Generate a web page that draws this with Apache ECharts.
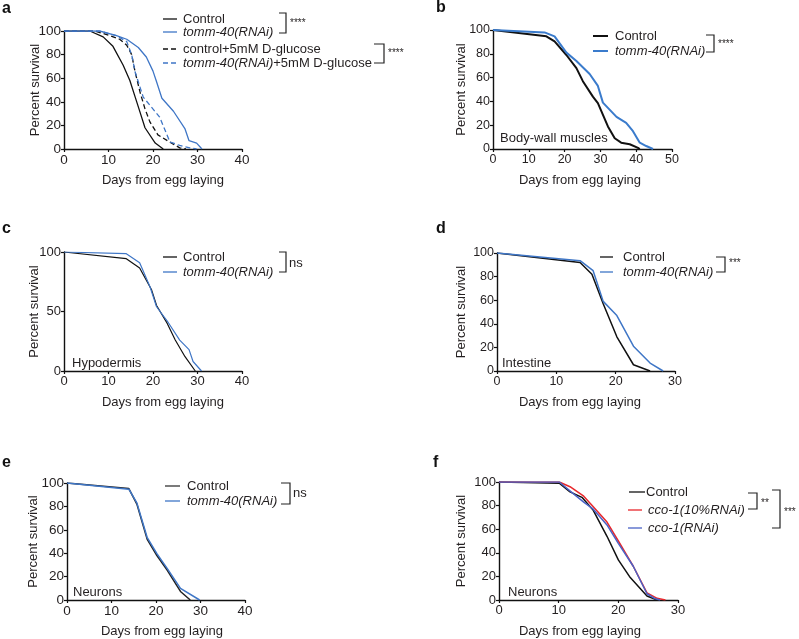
<!DOCTYPE html>
<html>
<head>
<meta charset="utf-8">
<script src="https://cdn.jsdelivr.net/npm/echarts@6/dist/echarts.min.js"></script>
<style>
  html, body { margin: 0; padding: 0; background: #fff; }
  #chart { width: 799px; height: 639px; }
</style>
</head>
<body>
<div id="chart"></div>
<script>
// survival curves, [day, percent]
const aControl = [[0,100],[5.8,100],[8.8,95],[11,87],[13.3,71],[14.8,58],[16,44],[17.1,31],[18.2,18],[20.5,5],[22.3,0]];
const aControlGlu = [[0,100],[7,100],[10.3,96],[12.5,93],[14.1,88],[15.2,80],[16,65],[17.1,48],[18.2,34],[19.3,23],[21.1,12],[23.7,6],[26,1],[27.4,0]];
const aTomm = [[0,100],[8,100],[11.8,96],[14.1,93],[16.7,86],[18.5,78],[20,66],[20.8,57],[22,43],[24.6,32],[27.2,17],[28.1,7],[29.8,5],[31,0]];
const aTommGlu = [[0,100],[8,100],[11.8,96],[14.1,91],[15.2,80],[16,65],[17.8,44],[21.5,27],[23.8,6],[26,3],[28.3,1],[29.8,0]];

const bControl = [[0,100],[14.9,94.7],[17.2,90.4],[20.5,79],[23.3,68],[25.1,57],[27.9,44],[29.3,38.5],[32.1,19],[34,9],[35.8,5.3],[38.2,4],[40.5,1],[41,0]];
const bTomm = [[0,100],[14.4,98],[17.2,94.7],[20.5,81],[23.3,74],[27,63],[29.3,53],[30.7,39],[34.5,27],[37.2,22],[39.1,15],[41,5.3],[42.8,2.5],[44.7,0]];

const cControl = [[0,100],[14,94.4],[17,86.6],[19.7,68],[20.8,55],[23.2,40],[25,26],[27.2,12],[29.5,0]];
const cTomm = [[0,100],[14,98.6],[17,91],[19.3,71],[20.8,54],[23.2,42],[26,26],[28.1,18],[29,8],[30.9,0]];

const dControl = [[0,100],[14,91.9],[16,82],[17.9,57],[20.2,29],[23,5.3],[25.8,0]];
const dTomm = [[0,100],[14,93.5],[16.2,85],[17.9,59],[20.2,47],[23,21],[25.8,6.7],[28,0]];

const eControl = [[0,100],[13.9,95.2],[15.7,82],[18,52],[20.2,38],[22.5,25.6],[25.5,7.3],[27.7,0]];
const eTomm = [[0,100],[13.9,94.7],[15.7,83],[18,53.6],[20.2,39.6],[22.5,27],[25.5,10],[29.8,0]];

const fControl = [[0,100],[10.1,99],[11.9,91.6],[13.9,87],[15.8,76],[18.1,54],[20,34],[22,19],[24.8,3.4],[26.5,0]];
const fCco10 = [[0,100],[10.1,100],[11.9,96],[14.2,88],[15.8,79],[18.1,66],[20,50],[22.5,28.6],[24.8,6],[26.5,1.4],[27.9,0]];
const fCco = [[0,100],[10.1,100],[12.5,90],[14.2,83],[15.8,77],[18.1,63.6],[20,48],[22.5,28.6],[24.8,5.3],[26.2,1],[27,0]];

const xMax = [40, 50, 40, 30, 40, 30];
const yStep = [20, 20, 50, 20, 20, 20];
const tickSize = [13, 12, 12.5, 12, 13, 12.5];
const yNameGap = [22, 25, 23, 29, 27, 31];
const xNameShift = [10, -2.5, 10, -6, 6, -8.5];

const FONT = 'Liberation Sans, Arial, sans-serif';
const TXT = '#231f20';
const BLACK = '#111';
const BLUE = '#3f76c6';
const RED = '#e8282c';
const BLUE2 = '#4a62c6';

const grids = [
  {left: 64, top: 31, width: 178, height: 118},
  {left: 493, top: 30, width: 179, height: 119},
  {left: 64, top: 252, width: 178, height: 119},
  {left: 497, top: 253, width: 178, height: 118},
  {left: 67, top: 483, width: 178, height: 119},
  {left: 499, top: 482, width: 179, height: 119}
];

const axisLine = {lineStyle: {color: BLACK, width: 1.4}};
const axisTick = {length: 3, lineStyle: {color: BLACK, width: 1.2}};

const xAxes = grids.map((g, i) => {
  const s = xNameShift[i];
  return {
    gridIndex: i, type: 'value', min: 0, max: xMax[i], interval: 10,
    axisLine, axisTick, splitLine: {show: false},
    axisLabel: {fontFamily: FONT, fontSize: tickSize[i] + 0.5, color: TXT, margin: 4},
    name: 'Days from egg laying', nameLocation: 'middle', nameGap: 25, nameMoveOverlap: false,
    nameTextStyle: {fontFamily: FONT, fontSize: 13, color: TXT,
      padding: s > 0 ? [0, 0, 0, 2 * s] : [0, -2 * s, 0, 0]}
  };
});

const yAxes = grids.map((g, i) => ({
  gridIndex: i, type: 'value', min: 0, max: 100, interval: yStep[i],
  axisLine, axisTick, splitLine: {show: false},
  axisLabel: {fontFamily: FONT, fontSize: tickSize[i] + 0.5, color: TXT, margin: 3},
  name: 'Percent survival', nameLocation: 'middle', nameGap: yNameGap[i], nameMoveOverlap: false,
  nameTextStyle: {fontFamily: FONT, fontSize: 13, color: TXT}
}));

const line = (i, data, color, width, type) => ({
  type: 'line', xAxisIndex: i, yAxisIndex: i, data,
  symbol: 'none', animation: false, silent: true,
  lineStyle: {color, width, type: type || 'solid'}
});

const series = [
  line(0, aControl, BLACK, 1.3),
  line(0, aControlGlu, BLACK, 1.3, [5, 3]),
  line(0, aTomm, BLUE, 1.3),
  line(0, aTommGlu, BLUE, 1.3, [5, 3]),
  line(1, bControl, BLACK, 2),
  line(1, bTomm, '#3a7bcc', 2),
  line(2, cControl, BLACK, 1.2),
  line(2, cTomm, BLUE, 1.2),
  line(3, dControl, BLACK, 1.5),
  line(3, dTomm, BLUE, 1.5),
  line(4, eControl, '#222', 1.5),
  line(4, eTomm, BLUE, 1.5),
  line(5, fControl, BLACK, 1.5),
  line(5, fCco10, RED, 1.5),
  line(5, fCco, BLUE2, 1.5)
];

const graphic = [];
const text = (x, y, s, opt) => graphic.push({
  type: 'text', x, y, silent: true,
  style: Object.assign({text: s, font: '13px ' + FONT, fill: TXT, verticalAlign: 'middle'}, opt || {})
});
const seg = (x1, x2, y, color, width, dash) => graphic.push({
  type: 'line', silent: true,
  shape: {x1, y1: y, x2, y2: y},
  style: {stroke: color, lineWidth: width || 1.3, lineDash: dash || null}
});
const bracket = (x0, x, y1, y2) => graphic.push({
  type: 'polyline', silent: true,
  shape: {points: [[x0, y1], [x, y1], [x, y2], [x0, y2]]},
  style: {stroke: '#222', lineWidth: 1.2, fill: null}
});
const rich = {i: {fontStyle: 'italic', fontFamily: FONT, fontSize: 13, fill: TXT}, n: {fontFamily: FONT, fontSize: 13, fill: TXT}};

// panel letters
[['a', 2, 9], ['b', 436, 8], ['c', 2, 229], ['d', 436, 229], ['e', 2, 463], ['f', 433, 463]]
  .forEach(p => text(p[1], p[2], p[0], {font: 'bold 16px ' + FONT, fill: '#111'}));

// a
seg(163, 177, 19, BLACK); text(183, 19, 'Control');
seg(163, 177, 32, BLUE); text(183, 32, 'tomm-40(RNAi)', {font: 'italic 13px ' + FONT});
seg(163, 177, 49, BLACK, 1.3, [5, 3]); text(183, 49, 'control+5mM D-glucose');
seg(163, 177, 63, BLUE, 1.3, [5, 3]);
text(183, 63, '{i|tomm-40(RNAi)}{n|+5mM D-glucose}', {rich});
bracket(279, 286, 13, 33); text(290, 23, '****', {font: '10px ' + FONT});
bracket(374, 384, 44, 63); text(388, 53, '****', {font: '10px ' + FONT});

// b
seg(593, 608, 36, BLACK, 2); text(615, 36, 'Control');
seg(593, 608, 51, '#3a7bcc', 2); text(615, 51, 'tomm-40(RNAi)', {font: 'italic 13px ' + FONT});
bracket(706, 714, 35, 52); text(718, 44, '****', {font: '10px ' + FONT});
text(500, 138, 'Body-wall muscles');

// c
seg(163, 177, 257, BLACK); text(183, 257, 'Control');
seg(163, 177, 272, BLUE); text(183, 272, 'tomm-40(RNAi)', {font: 'italic 13px ' + FONT});
bracket(279, 286, 252, 272); text(289, 263, 'ns');
text(72, 363, 'Hypodermis');

// d
seg(600, 613, 257, BLACK); text(623, 257, 'Control');
seg(600, 613, 272, BLUE); text(623, 272, 'tomm-40(RNAi)', {font: 'italic 13px ' + FONT});
bracket(716, 725, 257, 272); text(729, 263, '***', {font: '10px ' + FONT});
text(502, 363, 'Intestine');

// e
seg(165, 180, 486, '#333'); text(187, 486, 'Control');
seg(165, 180, 501, BLUE); text(187, 501, 'tomm-40(RNAi)', {font: 'italic 13px ' + FONT});
bracket(281, 290, 483, 504); text(293, 493, 'ns');
text(73, 592, 'Neurons');

// f
seg(629, 645, 492, BLACK); text(646, 492, 'Control');
seg(628, 642, 510, RED); text(648, 510, 'cco-1(10%RNAi)', {font: 'italic 13px ' + FONT});
seg(628, 642, 528, BLUE2); text(648, 528, 'cco-1(RNAi)', {font: 'italic 13px ' + FONT});
bracket(748, 757, 493, 509); text(761, 503, '**', {font: '10px ' + FONT});
bracket(772, 780, 490, 528); text(784, 512, '***', {font: '10px ' + FONT});
text(508, 592, 'Neurons');

const chart = echarts.init(document.getElementById('chart'), null, {renderer: 'canvas'});
chart.setOption({
  animation: false,
  backgroundColor: '#fff',
  grid: grids,
  xAxis: xAxes,
  yAxis: yAxes,
  series,
  graphic
});
</script>
</body>
</html>
